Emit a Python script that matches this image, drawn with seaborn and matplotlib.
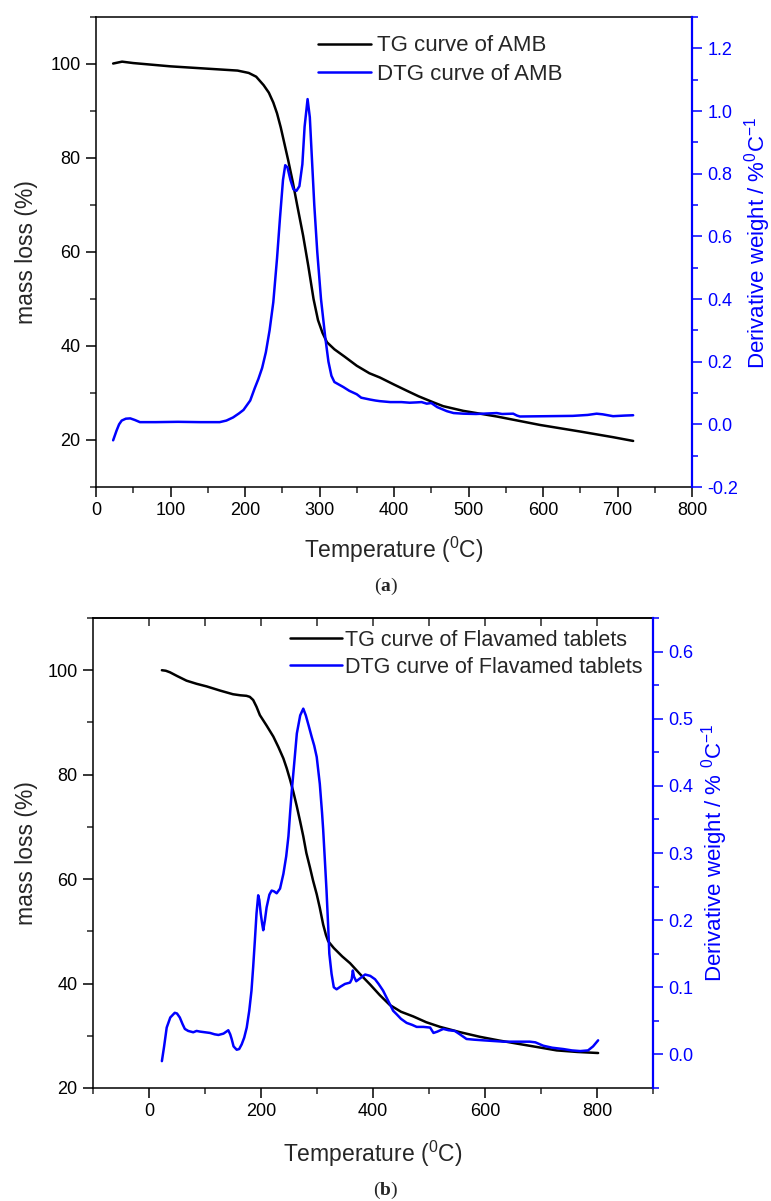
import numpy as np
import pandas as pd
import matplotlib
matplotlib.use("Agg")
import matplotlib.pyplot as plt
import seaborn as sns
from matplotlib.ticker import MultipleLocator, FormatStrFormatter

# ---------------- Panel (a): AMB ----------------
tg_a_temp = [23, 35, 50, 100, 150, 190, 205, 215, 225, 232, 238, 243, 248, 253, 258, 264, 270,
             278, 285, 292, 298, 304, 310, 320, 334, 350, 367, 381, 400, 417, 433, 453, 466,
             493, 538, 596, 650, 694, 721]
tg_a_mass = [100.1, 100.5, 100.2, 99.5, 99.0, 98.6, 98.1, 97.3, 95.5, 93.9, 91.8, 89.5, 86.5,
             83.0, 79.5, 75.0, 70.0, 63.5, 57.0, 50.0, 45.5, 42.8, 40.8, 39.3, 37.7, 35.8, 34.2,
             33.3, 31.8, 30.5, 29.3, 28.0, 27.2, 26.2, 25.0, 23.2, 21.8, 20.6, 19.8]

dtg_a_temp = [23, 27.6, 31, 34.5, 40, 46, 52, 59, 80, 110, 140, 166, 175, 184, 192, 198, 207,
              213, 218, 223, 228, 233, 238, 243, 247, 251, 254, 257, 261, 265, 269, 273, 277,
              280, 284, 287, 290, 293, 297, 302, 307.6, 312, 316, 320, 332, 340, 350, 356, 368,
              375, 381, 395, 410, 421, 430, 437, 444, 450, 458, 471, 480, 493, 510, 538, 545,
              560, 565, 569, 605, 640, 660, 672, 680, 694, 710, 721]
dtg_a_val = [-0.051, -0.02, 0.0, 0.012, 0.018, 0.019, 0.014, 0.007, 0.007, 0.008, 0.007, 0.007,
             0.012, 0.022, 0.035, 0.046, 0.076, 0.115, 0.145, 0.18, 0.23, 0.30, 0.39, 0.53, 0.66,
             0.78, 0.827, 0.82, 0.78, 0.75, 0.745, 0.76, 0.83, 0.95, 1.038, 0.98, 0.84, 0.70,
             0.55, 0.40, 0.28, 0.20, 0.155, 0.135, 0.119, 0.107, 0.096, 0.085, 0.079, 0.076,
             0.074, 0.071, 0.071, 0.069, 0.070, 0.071, 0.066, 0.068, 0.055, 0.042, 0.036, 0.034,
             0.033, 0.036, 0.033, 0.034, 0.028, 0.025, 0.026, 0.027, 0.030, 0.034, 0.032, 0.026,
             0.028, 0.029]

# ---------------- Panel (b): Flavamed tablets ----------------
tg_b_temp = [23, 30, 37.5, 50, 67, 85, 103, 127, 150, 163, 174, 180, 186, 192, 198, 210, 222,
             231, 240, 246, 252, 258, 264, 270, 275.5, 281, 287.5, 293, 299.5, 305, 311, 316,
             320, 330, 345, 359, 377, 395, 412, 430, 450, 472, 495, 520, 555, 591, 625, 657,
             690, 728, 765, 802]
tg_b_mass = [100.0, 99.9, 99.6, 98.9, 98.0, 97.4, 96.9, 96.1, 95.4, 95.2, 95.1, 94.9, 94.3,
             93.0, 91.4, 89.4, 87.3, 85.3, 83.1, 81.2, 79.0, 76.6, 73.9, 71.0, 68.2, 65.0, 62.2,
             59.7, 57.1, 54.5, 51.3, 49.3, 48.1, 46.8, 45.2, 43.9, 41.8, 39.8, 37.8, 35.9, 34.6,
             33.7, 32.6, 31.7, 30.7, 29.8, 29.1, 28.5, 27.9, 27.2, 26.9, 26.7]

dtg_b_temp = [23, 27, 31.6, 38, 46, 50, 55, 60, 64, 70, 79, 85, 91, 100, 109, 117, 124, 133,
              141.6, 145, 147.6, 151, 156.6, 161, 165.5, 170, 174.5, 179, 183, 186, 189, 192,
              195, 197, 199.5, 202, 204, 207, 210, 215, 219, 223, 228, 234, 240, 245, 249, 252,
              255, 260, 264, 270, 275.5, 280, 285, 290.5, 295, 299.5, 305, 309, 311, 314, 317,
              320, 322, 326, 330, 335, 342, 350, 359, 362, 364, 366, 370, 378, 386, 395, 403.6,
              410, 418, 424, 430, 436, 442, 450, 460, 470, 478, 490, 502, 508, 515, 525.5, 535,
              546, 555, 567, 580, 597, 615, 633, 660, 680, 690, 704, 720, 740, 755, 770, 784,
              793, 802]
dtg_b_val = [-0.01, 0.012, 0.04, 0.055, 0.062, 0.061, 0.055, 0.045, 0.038, 0.035, 0.033, 0.035,
             0.034, 0.033, 0.032, 0.030, 0.029, 0.031, 0.036, 0.030, 0.023, 0.012, 0.007, 0.008,
             0.015, 0.025, 0.04, 0.065, 0.095, 0.13, 0.169, 0.21, 0.237, 0.23, 0.21, 0.195,
             0.185, 0.20, 0.219, 0.238, 0.244, 0.243, 0.24, 0.247, 0.269, 0.295, 0.325, 0.36,
             0.393, 0.44, 0.478, 0.505, 0.515, 0.505, 0.49, 0.473, 0.46, 0.443, 0.403, 0.36,
             0.335, 0.29, 0.244, 0.19, 0.15, 0.12, 0.10, 0.097, 0.101, 0.105, 0.107, 0.112,
             0.125, 0.116, 0.109, 0.114, 0.119, 0.117, 0.112, 0.105, 0.095, 0.085, 0.075, 0.065,
             0.06, 0.053, 0.047, 0.044, 0.041, 0.041, 0.040, 0.032, 0.034, 0.038, 0.036, 0.035,
             0.030, 0.023, 0.022, 0.021, 0.020, 0.019, 0.019, 0.019, 0.018, 0.013, 0.010, 0.008,
             0.006, 0.005, 0.006, 0.012, 0.021]

labels_a = ["TG curve of AMB", "DTG curve of AMB"]
labels_b = ["TG curve of Flavamed tablets", "DTG curve of Flavamed tablets"]
xlabel = "Temperature ($^0$C)"
ylabel = "mass loss (%)"
rlabel_a = "Derivative weight / %$^0$C$^{-1}$"
rlabel_b = "Derivative weight / % $^0$C$^{-1}$"

# ---------------- styling ----------------
sns.set_theme(style="ticks")
plt.rcParams.update({
    "font.family": ["Liberation Sans", "DejaVu Sans"],
    "mathtext.fontset": "custom",
    "mathtext.rm": "Liberation Sans",
    "mathtext.bf": "Liberation Serif:bold",
    "mathtext.default": "regular",
    "axes.unicode_minus": False,
    "axes.linewidth": 1.1,
    "axes.edgecolor": "black",
})

W, H = 771, 1201
fig = plt.figure(figsize=(W / 100, H / 100), dpi=100)
fig.patch.set_facecolor("white")

BLUE = "#0000ff"
TICK_FS = 13
LAB_FS = 16.5
RLAB_FS = 16
LW = 1.8


def style_panel(ax, axr, xmaj, xmin, ymaj, ymin, rmaj, rmin):
    ax.xaxis.set_major_locator(MultipleLocator(xmaj))
    ax.xaxis.set_minor_locator(MultipleLocator(xmin))
    ax.yaxis.set_major_locator(MultipleLocator(ymaj))
    ax.yaxis.set_minor_locator(MultipleLocator(ymin))
    axr.yaxis.set_major_locator(MultipleLocator(rmaj))
    axr.yaxis.set_minor_locator(MultipleLocator(rmin))
    axr.yaxis.set_major_formatter(FormatStrFormatter("%.1f"))
    ax.tick_params(which="major", direction="out", length=7, width=1.1,
                   labelsize=TICK_FS, colors="black", pad=4, top=False, right=False)
    ax.tick_params(which="minor", direction="out", length=4, width=1.1,
                   top=False, right=False)
    axr.tick_params(axis="y", which="major", direction="out", length=7, width=1.1,
                    labelsize=TICK_FS, colors=BLUE, pad=4)
    axr.tick_params(axis="y", which="minor", direction="out", length=4, width=1.1,
                    colors=BLUE)
    ax.spines["right"].set_visible(False)
    axr.spines["right"].set_color(BLUE)
    axr.spines["right"].set_linewidth(1.6)
    for s in ["left", "top", "bottom"]:
        axr.spines[s].set_visible(False)
    ax.grid(False)
    axr.grid(False)
    ax.set_facecolor("white")


# ---------------- Panel (a) ----------------
ax1 = fig.add_axes([96 / W, 1 - 487 / H, 596 / W, 470 / H])
ax1r = ax1.twinx()
df_tg_a = pd.DataFrame({"T": tg_a_temp, "m": tg_a_mass})
df_dtg_a = pd.DataFrame({"T": dtg_a_temp, "d": dtg_a_val})
sns.lineplot(data=df_tg_a, x="T", y="m", ax=ax1, color="black", lw=LW,
             sort=False, estimator=None)
sns.lineplot(data=df_dtg_a, x="T", y="d", ax=ax1r, color=BLUE, lw=LW,
             sort=False, estimator=None)
ax1.set_xlim(0, 800)
ax1.set_ylim(10, 110)
ax1r.set_ylim(-0.2, 1.3)
style_panel(ax1, ax1r, 100, 50, 20, 10, 0.2, 0.1)
ax1.set_xlabel(xlabel, fontsize=LAB_FS, labelpad=11)
ax1.set_ylabel(ylabel, fontsize=LAB_FS)
ax1r.set_ylabel(rlabel_a, fontsize=RLAB_FS, color=BLUE)
ax1.yaxis.set_label_coords(-0.097, 0.5)
ax1r.yaxis.set_label_coords(1.084, 0.52)
h1 = [plt.Line2D([], [], color="black", lw=LW), plt.Line2D([], [], color=BLUE, lw=LW)]
ax1r.legend(h1, labels_a, loc="upper left", bbox_to_anchor=(0.346, 0.994), frameon=False,
            fontsize=16, handlelength=2.4, handletextpad=0.27, labelspacing=0.33,
            borderaxespad=0.3)

# ---------------- Panel (b) ----------------
ax2 = fig.add_axes([93 / W, 1 - 1088 / H, 560 / W, 470 / H])
ax2r = ax2.twinx()
df_tg_b = pd.DataFrame({"T": tg_b_temp, "m": tg_b_mass})
df_dtg_b = pd.DataFrame({"T": dtg_b_temp, "d": dtg_b_val})
sns.lineplot(data=df_tg_b, x="T", y="m", ax=ax2, color="black", lw=LW,
             sort=False, estimator=None)
sns.lineplot(data=df_dtg_b, x="T", y="d", ax=ax2r, color=BLUE, lw=LW,
             sort=False, estimator=None)
ax2.set_xlim(-100, 900)
ax2.set_ylim(20, 110)
ax2r.set_ylim(-0.05, 0.65)
style_panel(ax2, ax2r, 200, 100, 20, 10, 0.1, 0.05)
sec = ax2.secondary_xaxis("top")
sec.set_xticks(np.arange(0, 900, 100))
sec.tick_params(direction="in", length=6, width=1.1, labeltop=False, top=True)
sec.spines["top"].set_linewidth(1.1)
ax2.set_xlabel(xlabel, fontsize=LAB_FS, labelpad=13)
ax2.set_ylabel(ylabel, fontsize=LAB_FS)
ax2r.set_ylabel(rlabel_b, fontsize=RLAB_FS, color=BLUE)
ax2.yaxis.set_label_coords(-0.098, 0.5)
ax2r.yaxis.set_label_coords(1.083, 0.5)
ax2r.legend(h1, labels_b, loc="upper left", bbox_to_anchor=(0.325, 1.007), frameon=False,
            fontsize=15.5, handlelength=2.4, handletextpad=0.15, labelspacing=0.28,
            borderaxespad=0.3)

# ---------------- captions ----------------
fig.text(0.5, 1 - 586 / H, r"($\mathbf{a}$)", ha="center", va="center",
         fontsize=14, family="Liberation Serif")
fig.text(0.5, 1 - 1190 / H, r"($\mathbf{b}$)", ha="center", va="center",
         fontsize=14, family="Liberation Serif")

fig.savefig("out.png", dpi=100, facecolor="white")
